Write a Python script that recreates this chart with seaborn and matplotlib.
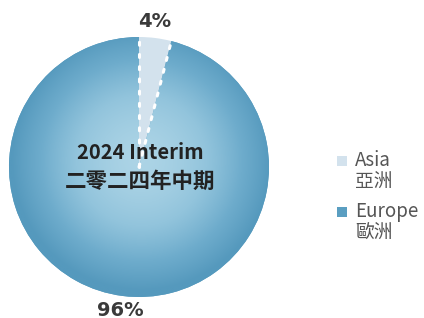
import numpy as np
import matplotlib.pyplot as plt
import matplotlib.colors as mcolors
from matplotlib.patches import Rectangle
import seaborn as sns

regions = ["Asia\n亞洲", "Europe\n歐洲"]
shares = [4, 96]
pct_labels = ["4%", "96%"]
colors = ["#d3e2ed", "#5a9ec1"]

sns.set_theme(style="white")
plt.rcParams['font.family'] = ['Noto Sans CJK TC', 'DejaVu Sans']

fig = plt.figure(figsize=(4.24, 3.18), dpi=100)
ax = fig.add_axes([9 / 424, 21 / 318, 260 / 424, 260 / 318])

wedges, _ = ax.pie(shares, colors=colors, startangle=90, counterclock=False,
                   radius=1.0, wedgeprops=dict(linewidth=0))
ax.set_xlim(-1, 1)
ax.set_ylim(-1, 1)
ax.set_aspect("equal")
ax.axis("off")

# radial gradient on the Europe slice
xx, yy = np.meshgrid(np.linspace(-1, 1, 400), np.linspace(-1, 1, 400))
rr = np.clip(np.hypot(xx - 0.02, yy - 0.05), 0, 1) ** 1.6
cmap = mcolors.LinearSegmentedColormap.from_list("eu", ["#acd4e6", "#92c4dc", "#6eaccc", "#5599bd"])
im = ax.imshow(rr, extent=(-1, 1, -1, 1), origin="lower", cmap=cmap, vmin=0, vmax=1, zorder=1)
im.set_clip_path(wedges[1])

# dotted white borders on the small slice
a0 = np.deg2rad(90)
a1 = np.deg2rad(90 - 360 * shares[0] / sum(shares))
for a in (a0, a1):
    ax.plot([0, np.cos(a)], [0, np.sin(a)], color="white", linestyle=(0, (1, 3)),
            linewidth=2.2, dash_capstyle="round", zorder=3)

# percentage labels
ax.text(0.12, 1.12, pct_labels[0], ha="center", va="center", fontsize=14,
        fontweight="bold", color="#3a3a3a", family=["DejaVu Sans"])
ax.text(-0.14, -1.1, pct_labels[1], ha="center", va="center", fontsize=14,
        fontweight="bold", color="#3a3a3a", family=["DejaVu Sans"])

# centre title
ax.text(0.01, 0.11, "2024 Interim", ha="center", va="center", fontsize=14.5,
        fontweight="bold", color="#222222")
ax.text(0.01, -0.11, "二零二四年中期", ha="center", va="center", fontsize=15.5,
        fontweight="bold", color="#222222")

# legend
for i, (lab, c) in enumerate(zip(regions, colors)):
    y = 161 + i * 51
    fig.patches.append(Rectangle((337 / 424, (318 - y - 5) / 318), 10 / 424, 10 / 318,
                                 transform=fig.transFigure, facecolor=c, edgecolor="none"))
    fig.text(355 / 424, (318 - y + 11) / 318, lab, ha="left", va="top", fontsize=13.5,
             color="#555555", linespacing=1.0)

fig.savefig("out.png", dpi=100)
